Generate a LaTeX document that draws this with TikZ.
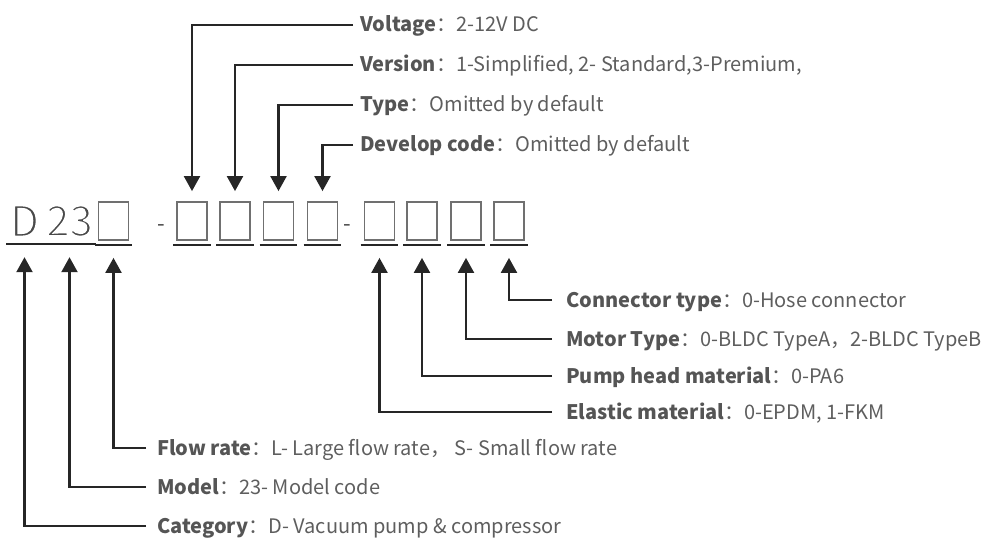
\documentclass[tikz,border=0pt]{standalone}
\usepackage{fontspec}
\setmainfont{Noto Sans CJK SC}
\usetikzlibrary{arrows.meta}
\definecolor{linec}{HTML}{262626}
\definecolor{boldc}{HTML}{555555}
\definecolor{txtc}{HTML}{5E5E5E}
\definecolor{boxc}{HTML}{707070}
\definecolor{codec}{HTML}{4A4A4A}
\newcommand{\thintext}[1]{\special{pdf:literal q 1 1 1 RG 2 Tr 1.6 w}#1\special{pdf:literal Q}}
\begin{document}
\begin{tikzpicture}[x=1pt,y=-1pt,
  col/.style={minimum width=30pt,minimum height=38pt,inner sep=0pt},
  cbox/.style={col,draw=boxc,line width=1.8pt},
  ctext/.style={col,text=codec,font=\fontsize{42}{44}\selectfont},
  uline/.style={draw=linec,line width=2.5pt},
  conn/.style={draw=linec,line width=2.2pt},
  arr/.style={conn,-{Triangle[length=15pt,width=16pt]}},
  lbl/.style={anchor=west,inner sep=0pt,text height=14pt,text depth=0pt,
    text=txtc,font=\fontsize{20}{22}\selectfont},
  hy/.style={anchor=base,inner sep=0pt,text=codec,font=\fontsize{22}{24}\selectfont}]
\useasboundingbox (0,0) rectangle (988,540);
\newcommand{\bl}[1]{\textcolor{boldc}{\bfseries #1}}

% code row
\node[ctext] (cD) at (24.5,221) {\thintext{D}};
\node[ctext] (cM) at (69.5,221) {\thintext{23}};
\node[cbox]  (cF) at (113.5,221) {};
\node[hy]    (h1) at (161,232) {-};
\node[cbox]  (cV) at (192,221) {};
\node[cbox]  (cR) at (235,221) {};
\node[cbox]  (cT) at (278.5,221) {};
\node[cbox]  (cC) at (322.5,221) {};
\node[hy]    (h2) at (347.5,232) {-};
\node[cbox]  (cE) at (379.5,221) {};
\node[cbox]  (cP) at (422,221) {};
\node[cbox]  (cMo) at (466,221) {};
\node[cbox]  (cCo) at (509,221) {};

\foreach \n in {cD,cM,cF,cV,cR,cT,cC,cE,cP,cMo,cCo}
  \draw[uline] ([xshift=-3pt,yshift=-4pt]\n.south west) -- ([xshift=3pt,yshift=-4pt]\n.south east);

% top labels
\node[lbl] (lV) at (360,25)  {\bl{Voltage}：2-12V DC};
\node[lbl] (lR) at (360,65)  {\bl{Version}：1-Simplified, 2- Standard,3-Premium,};
\node[lbl] (lT) at (360,105) {\bl{Type}：Omitted by default};
\node[lbl] (lC) at (360,145) {\bl{Develop code}：Omitted by default};

\draw[arr] ([xshift=-7pt]lV.west) -| ([yshift=10pt]cV.north);
\draw[arr] ([xshift=-7pt]lR.west) -| ([yshift=10pt]cR.north);
\draw[arr] ([xshift=-7pt]lT.west) -| ([yshift=10pt]cT.north);
\draw[arr] ([xshift=-7pt]lC.west) -| ([yshift=10pt]cC.north);

% bottom right labels
\node[lbl] (lCo) at (566,300) {\bl{Connector type}：0-Hose connector};
\node[lbl] (lMo) at (566,339) {\bl{Motor Type}：0-BLDC TypeA，2-BLDC TypeB};
\node[lbl] (lP)  at (566,376) {\bl{Pump head material}：0-PA6};
\node[lbl] (lE)  at (566,412) {\bl{Elastic material}：0-EPDM, 1-FKM};

\draw[arr] ([xshift=-14pt]lCo.west) -| ([yshift=-17pt]cCo.south);
\draw[arr] ([xshift=-14pt]lMo.west) -| ([yshift=-17pt]cMo.south);
\draw[arr] ([xshift=-14pt]lP.west)  -| ([yshift=-17pt]cP.south);
\draw[arr] ([xshift=-14pt]lE.west)  -| ([yshift=-17pt]cE.south);

% bottom left labels
\node[lbl] (lF) at (157,448) {\bl{Flow rate}：L- Large flow rate， S- Small flow rate};
\node[lbl] (lM) at (157,487) {\bl{Model}：23- Model code};
\node[lbl] (lD) at (157,526) {\bl{Category}：D- Vacuum pump \& compressor};

\draw[arr] ([xshift=-11pt]lF.west) -| ([yshift=-17pt]cF.south);
\draw[arr] ([xshift=-11pt]lM.west) -| ([yshift=-17pt]cM.south);
\draw[arr] ([xshift=-11pt]lD.west) -| ([yshift=-17pt]cD.south);
\end{tikzpicture}
\end{document}
